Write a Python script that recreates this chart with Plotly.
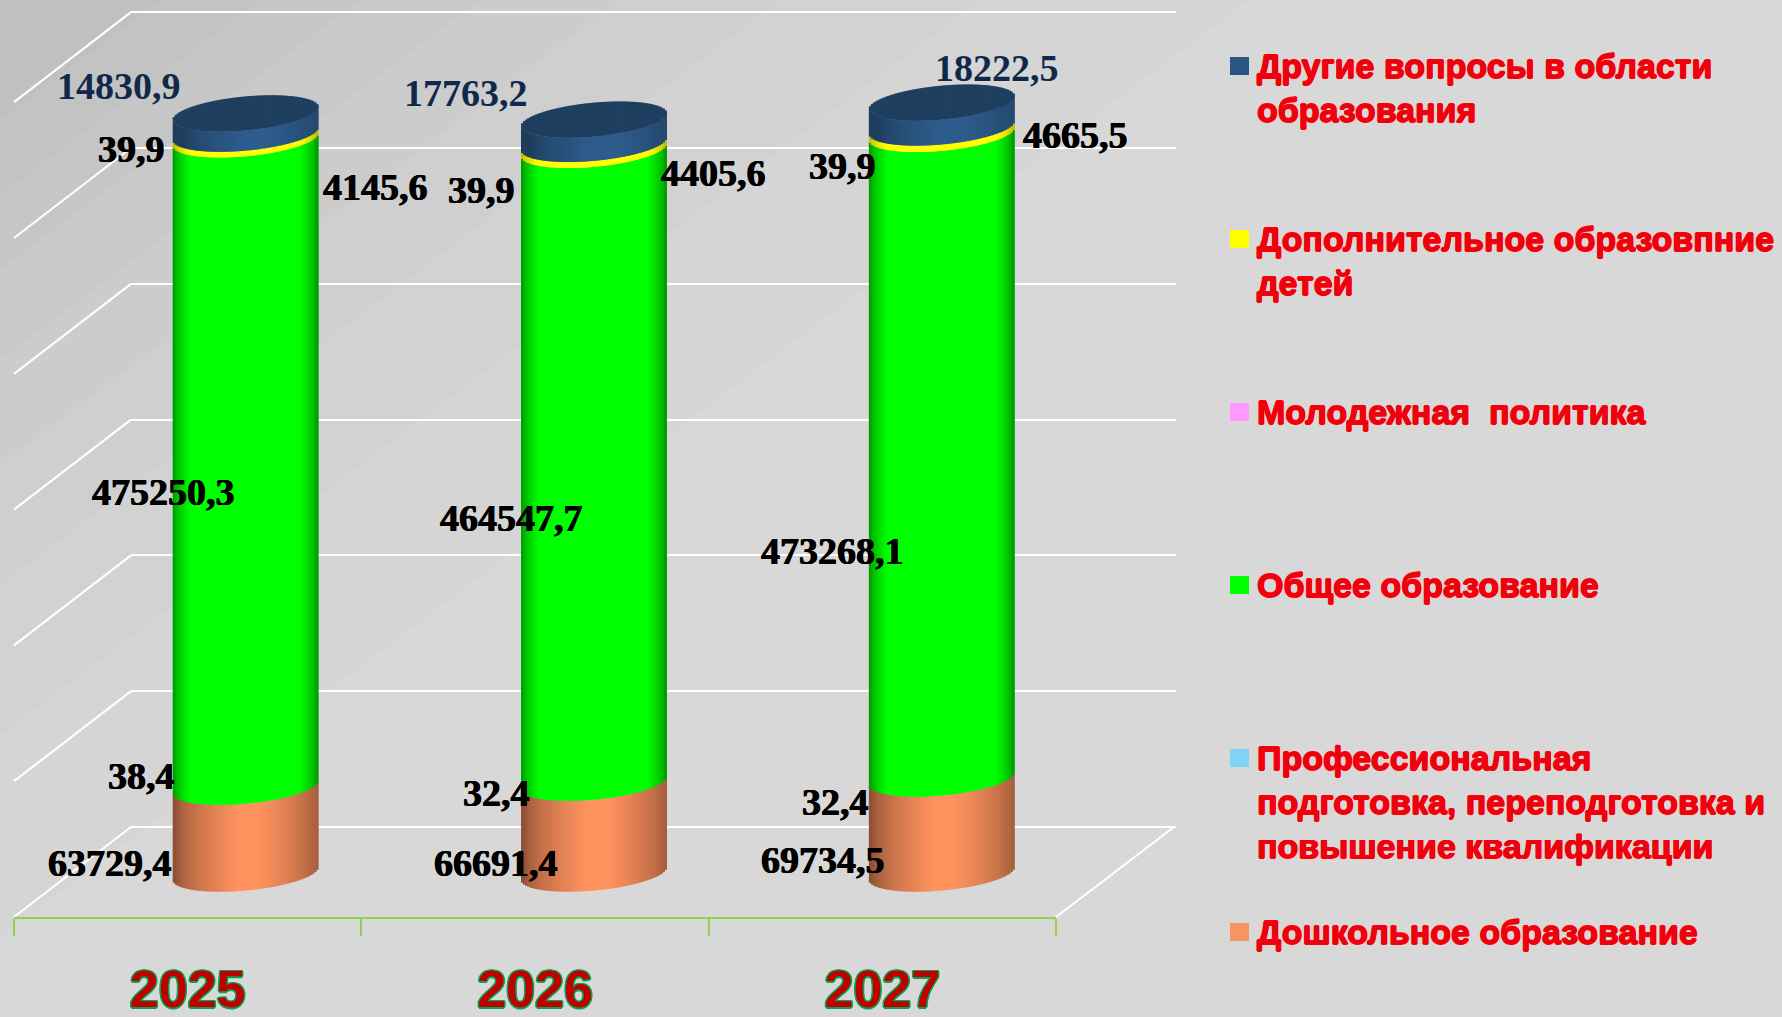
import numpy as np
import plotly.graph_objects as go

W, H = 1782, 1017

# ---- data ----
years = ["2025", "2026", "2027"]
other = [14830.9, 17763.2, 18222.5]
additional = [4145.6, 4405.6, 4665.5]
youth = [39.9, 39.9, 39.9]
general = [475250.3, 464547.7, 473268.1]
professional = [38.4, 32.4, 32.4]
preschool = [63729.4, 66691.4, 69734.5]

names = [
    "Другие вопросы в области<br>образования",
    "Дополнительное образовпние<br>детей",
    "Молодежная  политика",
    "Общее образование",
    "Профессиональная<br>подготовка, переподготовка и<br>повышение квалификации",
    "Дошкольное образование",
]
legend_colors = ["#2A5580", "#FFFF00", "#FF99FF", "#00FF00", "#7FD4F5", "#F79464"]

# ---- stack order, bottom to top ----
stack = [
    (preschool, (255, 146, 94), 0.56, 0.85, 0.05),
    (professional, (127, 212, 245), 0.55, 0.8, 0.0),
    (general, (0, 255, 0), 0.55, 0.26, 0.0),
    (youth, (255, 153, 255), 0.55, 0.8, 0.0),
    (additional, (255, 255, 0), 0.7, 0.25, 0.0),
    (other, (46, 92, 140), 0.66, 0.85, 0.15),
]
CAP_RGB = (31, 63, 96)

# ---- geometry (pixels) ----
AXIS_X0, AXIS_X1 = 14, 1056
FRONT_Y = 917
BASE_Y = 873.5
BACK_X0, BACK_X1 = 131, 1176
BACK_Y0 = 827
GRID_PX = 135.8
K = 0.001362
CYL_W = 145
CYL_B = 17.0
CYL_TILT = 6.5
CAT_W = (AXIS_X1 - AXIS_X0) / 3
CYL_SHIFT = [-15, -14, -13.5]
N = 73
STRIP = (CYL_W / N + 1.0) / CAT_W


def px(x):
    return x / W


def py(y):
    return 1 - y / H


us = (np.arange(N) + 0.5) / N * 2 - 1


def surf(u):
    # vertical displacement (in px, positive = up) of the lower rim of the cylinder
    return -CYL_B * np.sqrt(1 - u**2) + CYL_TILT * u


def shade(rgb, edge, plateau, c, u):
    t = np.clip((1 - abs(u - c)) / plateau, 0, 1) ** 0.6
    f = edge + (1 - edge) * t
    return "rgb(%d,%d,%d)" % tuple(int(round(v * f)) for v in rgb)


def strip_offset(i, u):
    return (CYL_SHIFT[i] + (u + 1) / 2 * CYL_W - CYL_W / N / 2) / CAT_W


fig = go.Figure()

# back wall: gridlines through the axis
fig.add_trace(go.Scatter(x=[0, 1], y=[0, 0], mode="lines", line=dict(width=0),
                         hoverinfo="skip", showlegend=False, xaxis="x", yaxis="y"))

# cylinders: each one is built from narrow bars on the front axes
cum = np.zeros(3)
layers = []
for vals, rgb, edge, plateau, c in stack:
    vals = np.array(vals, float)
    xs, ys, bases, offs, cols = [], [], [], [], []
    for i, yr in enumerate(years):
        for u in us:
            xs.append(yr)
            ys.append(vals[i])
            bases.append(cum[i] + surf(u) / K)
            offs.append(strip_offset(i, u))
            cols.append(shade(rgb, edge, plateau, c, u))
    layers.append((vals.sum() < 1000, xs, ys, bases, offs, cols))
    cum = cum + vals

layers.sort(key=lambda l: not l[0])  # hair-thin segments first, so the others cover them
for _, xs, ys, bases, offs, cols in layers:
    fig.add_trace(go.Bar(x=xs, y=ys, base=bases, offset=offs, width=STRIP,
                         marker=dict(color=cols, line=dict(width=0)),
                         hoverinfo="skip", showlegend=False, xaxis="x2", yaxis="y2"))

# top caps
xs, ys, bases, offs = [], [], [], []
for i, yr in enumerate(years):
    for u in us:
        h = 2 * CYL_B * np.sqrt(1 - u**2)
        xs.append(yr)
        ys.append(h / K)
        bases.append(cum[i] + surf(u) / K)
        offs.append(strip_offset(i, u))
fig.add_trace(go.Bar(x=xs, y=ys, base=bases, offset=offs, width=STRIP,
                     marker=dict(color="rgb(%d,%d,%d)" % CAP_RGB, line=dict(width=0)),
                     hoverinfo="skip", showlegend=False, xaxis="x2", yaxis="y2"))

# ---- shapes ----
shapes = []
# background vignette in the top-left corner
for L in [160, 260, 360, 480, 620, 780, 980, 1250]:
    shapes.append(dict(type="path", xref="paper", yref="paper", layer="below",
                       path=f"M 0 1 L {px(L)} 1 L 0 {py(L * 0.75)} Z",
                       fillcolor="rgba(0,0,0,0.011)", line=dict(width=0)))
# side wall / floor diagonals
dy = FRONT_Y - BACK_Y0
for j in range(7):
    y_back = BACK_Y0 - j * GRID_PX
    shapes.append(dict(type="line", xref="paper", yref="paper", layer="below",
                       x0=px(AXIS_X0), y0=py(y_back + dy), x1=px(BACK_X0), y1=py(y_back),
                       line=dict(color="white", width=2.2)))
shapes.append(dict(type="line", xref="paper", yref="paper", layer="below",
                   x0=px(AXIS_X1), y0=py(FRONT_Y), x1=px(BACK_X1 - 2), y1=py(BACK_Y0),
                   line=dict(color="white", width=2.2)))

# ---- annotations ----
annotations = []


def fmt(v):
    return f"{v:.1f}".replace(".", ",")


SERIF = "Liberation Serif"
label_pos = {
    "other": [(119, 86), (466, 93), (997, 68)],
    "youth": [(131, 149), (481, 190), (842, 166)],
    "additional": [(375, 187), (713, 173), (1075, 135)],
    "general": [(163, 492), (511, 518), (832, 551)],
    "professional": [(141, 776), (496, 793), (835, 802)],
    "preschool": [(110, 863), (496, 863), (823, 860)],
}
series_by_key = dict(other=other, youth=youth, additional=additional,
                     general=general, professional=professional, preschool=preschool)
for key, positions in label_pos.items():
    for v, (lx, ly) in zip(series_by_key[key], positions):
        is_other = key == "other"
        col = "#10294A" if is_other else "#000000"
        annotations.append(dict(
            x=px(lx), y=py(ly), xref="paper", yref="paper", showarrow=False,
            xanchor="center", yanchor="middle", text=fmt(v),
            font=dict(family=SERIF, size=38, weight="bold", color=col,
                      shadow="none" if is_other else f"0.6px 0 0 {col}, -0.6px 0 0 {col}"),
        ))

leg_y = [66, 239, 412, 585, 758, 932]
red_edge = ", ".join(f"{a}px {b}px 0 #FF0000" for a, b in [(-0.7, 0), (0.7, 0), (0, -0.7), (0, 0.7)])
for name, col, y in zip(names, legend_colors, leg_y):
    shapes.append(dict(type="rect", xref="paper", yref="paper", x0=px(1230), x1=px(1249),
                       y0=py(y - 9), y1=py(y + 9), fillcolor=col, line=dict(width=0)))
    annotations.append(dict(
        x=px(1255), y=py(y - 21), xref="paper", yref="paper", showarrow=False,
        xanchor="left", yanchor="top", align="left", text=name,
        font=dict(family="Liberation Sans", size=34, weight="bold", color="#EE0010",
                  shadow=red_edge),
    ))

year_shadow = ", ".join(f"{a}px {b}px 0 #00A651" for a, b in
                        [(-1.5, 0), (1.5, 0), (0, -1.5), (0, 1.5), (-1, -1), (1, -1), (-1, 1), (1, 1)])

fig.update_layout(
    width=W, height=H,
    margin=dict(l=0, r=0, t=0, b=0, autoexpand=False),
    paper_bgcolor="#D8D8D8",
    plot_bgcolor="rgba(0,0,0,0)",
    barmode="overlay",
    showlegend=False,
    shapes=shapes,
    annotations=annotations,
    xaxis=dict(domain=[px(BACK_X0), px(BACK_X1)], range=[0, 1], visible=False, fixedrange=True),
    yaxis=dict(domain=[py(BACK_Y0), 1], range=[0, BACK_Y0 / GRID_PX * 1e5], dtick=100000,
               showgrid=True, gridcolor="white", gridwidth=2.2, zeroline=True, zerolinecolor="white",
               zerolinewidth=2.2, showticklabels=False, ticks="", showline=False, fixedrange=True),
    xaxis2=dict(domain=[px(AXIS_X0), px(AXIS_X1)], anchor="y2", type="category",
                categoryorder="array", categoryarray=years, range=[-0.5, 2.5],
                tickson="boundaries", ticks="outside", ticklen=17, tickwidth=1.5,
                tickcolor="#92D050", showline=True, linecolor="#92D050", linewidth=1.5,
                ticklabelstandoff=26, showgrid=False, fixedrange=True, automargin=False,
                tickfont=dict(family="Liberation Sans", size=52, weight="bold", color="#C00000",
                              shadow=year_shadow)),
    yaxis2=dict(domain=[py(FRONT_Y), 1], anchor="x2",
                range=[(BASE_Y - FRONT_Y) / K, BASE_Y / K], visible=False, fixedrange=True),
)

fig.write_html(
    "out.html",
    config={"displayModeBar": False},
    post_script="document.body.style.margin='0';document.body.style.overflow='hidden';document.body.style.background='#D8D8D8';",
)
